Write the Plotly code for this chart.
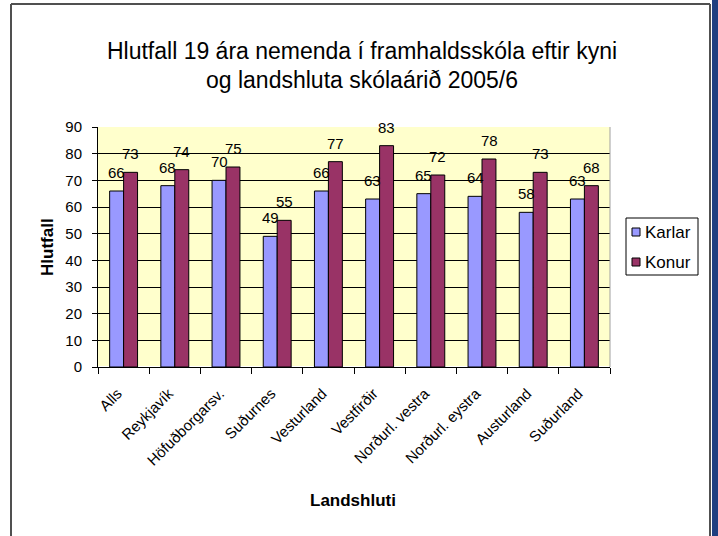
import plotly.graph_objects as go

categories = ["Alls", "Reykjavík", "Höfuðborgarsv.", "Suðurnes", "Vesturland",
              "Vestfirðir", "Norðurl. vestra", "Norðurl. eystra", "Austurland", "Suðurland"]
series_names = ["Karlar", "Konur"]
karlar = [66, 68, 70, 49, 66, 63, 65, 64, 58, 63]
konur = [73, 74, 75, 55, 77, 83, 72, 78, 73, 68]
y_ticks = [0, 10, 20, 30, 40, 50, 60, 70, 80, 90]
title_text = "Hlutfall 19 ára nemenda í framhaldsskóla eftir kyni<br>og landshluta skólaárið 2005/6"
x_title = "Landshluti"
y_title = "Hlutfall"

FONT = "Liberation Sans, Arial, sans-serif"
C_KARLAR = "#9999FF"
C_KONUR = "#993366"

W, H = 718, 536
PL, PR, PT, PB = 98, 610, 127, 367  # plot area in px


def px_x(v):
    return (v - PL) / (PR - PL)


def px_y(v):
    return (PB - v) / (PB - PT)


fig = go.Figure()
for name, vals, col in [(series_names[0], karlar, C_KARLAR), (series_names[1], konur, C_KONUR)]:
    fig.add_trace(go.Bar(
        name=name, x=categories, y=vals,
        marker=dict(color=col, line=dict(color="black", width=1)),
        showlegend=False, hoverinfo="skip",
    ))

annotations = []
# data labels, placed from the data values through the axes
for vals, shift in [(karlar, -7), (konur, 7)]:
    for c, v in zip(categories, vals):
        annotations.append(dict(
            x=c, y=v, xref="x", yref="y", text=str(v), showarrow=False,
            xshift=shift, yshift=8, yanchor="bottom", xanchor="center",
            font=dict(family=FONT, size=15, color="black"),
        ))

# axis titles
annotations.append(dict(
    x=px_x(47), y=px_y(247), xref="paper", yref="paper", text=f"<b>{y_title}</b>",
    textangle=-90, showarrow=False, xanchor="center", yanchor="middle",
    font=dict(family=FONT, size=17, color="black"),
))
annotations.append(dict(
    x=px_x(353), y=px_y(500), xref="paper", yref="paper", text=f"<b>{x_title}</b>",
    showarrow=False, xanchor="center", yanchor="middle",
    font=dict(family=FONT, size=17, color="black"),
))

# legend (drawn as a boxed key)
leg_items = [(series_names[0], C_KARLAR, 232), (series_names[1], C_KONUR, 262)]
shapes = [
    dict(type="rect", xref="paper", yref="paper",
         x0=px_x(626), x1=px_x(698), y0=px_y(275), y1=px_y(218),
         fillcolor="white", line=dict(color="black", width=1)),
]
for name, col, cy in leg_items:
    shapes.append(dict(type="rect", xref="paper", yref="paper",
                       x0=px_x(632), x1=px_x(640), y0=px_y(cy + 4), y1=px_y(cy - 4),
                       fillcolor=col, line=dict(color="black", width=1)))
    annotations.append(dict(
        x=px_x(643), y=px_y(cy), xref="paper", yref="paper", text=name,
        showarrow=False, xanchor="left", yanchor="middle",
        font=dict(family=FONT, size=17, color="black"),
    ))

# plot-area right edge, chart frame and screen edge
shapes += [
    dict(type="line", xref="paper", yref="paper", x0=1, x1=1, y0=0, y1=1,
         line=dict(color="#A0A0A0", width=1)),
    dict(type="line", xref="paper", yref="paper", x0=px_x(11), x1=px_x(11),
         y0=px_y(4), y1=px_y(545), line=dict(color="#505050", width=2)),
    dict(type="line", xref="paper", yref="paper", x0=px_x(11), x1=px_x(710),
         y0=px_y(4), y1=px_y(4), line=dict(color="#505050", width=2)),
    dict(type="line", xref="paper", yref="paper", x0=px_x(710), x1=px_x(710),
         y0=px_y(4), y1=px_y(545), line=dict(color="#505050", width=2)),
    dict(type="rect", xref="paper", yref="paper",
         x0=px_x(712), x1=px_x(725), y0=px_y(545), y1=px_y(-5),
         fillcolor="#1F3F80", line=dict(width=0)),
]

fig.update_layout(
    width=W, height=H,
    barmode="group", bargap=0.455, bargroupgap=0,
    paper_bgcolor="white", plot_bgcolor="#FFFFCC",
    font=dict(family=FONT, size=15, color="black"),
    margin=dict(l=PL, r=W - PR, t=PT, b=H - PB, autoexpand=False),
    showlegend=False,
    title=dict(
        text=title_text,
        x=362 / W, xanchor="center", xref="container",
        y=1 - 58.5 / H, yanchor="middle", yref="container",
        font=dict(family=FONT, size=23, color="black"),
    ),
    xaxis=dict(
        tickangle=-45, tickson="boundaries", ticks="outside", ticklen=6,
        tickcolor="black", showline=True, linecolor="black", linewidth=1,
        tickfont=dict(family=FONT, size=15), ticklabelstandoff=11, ticklabelshift=-6,
        automargin=False,
    ),
    yaxis=dict(
        range=[0, 90], tickvals=y_ticks, ticks="outside", ticklen=5, tickcolor="black",
        showline=True, linecolor="black", linewidth=1,
        showgrid=True, gridcolor="black", gridwidth=1,
        tickfont=dict(family=FONT, size=15), ticklabelstandoff=7,
        automargin=False,
    ),
    annotations=annotations,
    shapes=shapes,
)

fig.write_html(
    "out.html",
    config={"displayModeBar": False},
    post_script="document.body.style.margin='0';document.body.style.overflow='hidden';",
)
